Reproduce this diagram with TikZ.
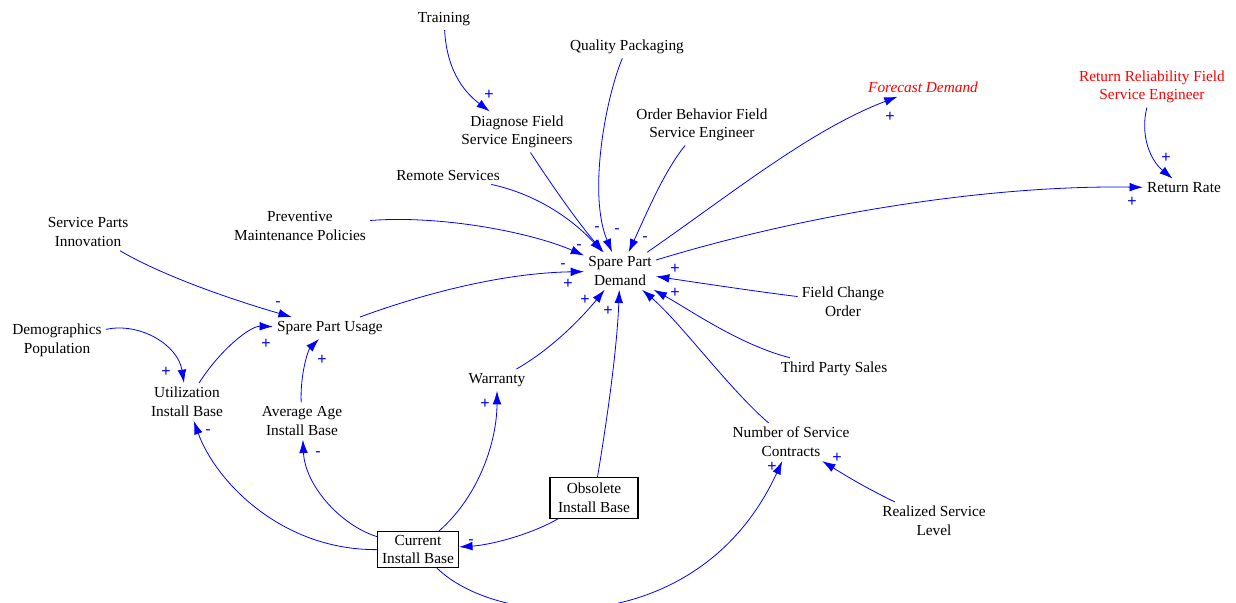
\documentclass[tikz,border=0pt]{standalone}
\usepackage{fontspec}
\setmainfont{Liberation Serif}
\newfontfamily\polfont{Liberation Sans}
\usepackage{tikz}
\usetikzlibrary{arrows.meta}
\usepackage{xcolor}

\newcommand{\varfont}{\fontsize{11.5}{14}\selectfont}
\tikzset{
  var/.style={align=center, inner sep=3pt, font=\varfont},
  redvar/.style={var, text=red},
  stock/.style={var, draw, line width=0.8pt, inner ysep=2.5pt, inner xsep=3.5pt},
  lnk/.style={blue, line width=0.6pt, -{Latex[length=10pt,width=6.5pt]}},
  pol/.style={text=blue, inner sep=0pt, font=\polfont\fontsize{12}{14}\selectfont},
}

\begin{document}
\begin{tikzpicture}[x=0.75pt, y=-0.75pt]
    \clip (0,0) rectangle (1236,603);
    % Variables
    \node[var] (train) at (444,19) {Training};
    \node[var] (quality) at (627,47) {Quality Packaging};
    \node[redvar, font=\varfont\itshape] (forecast) at (923,87) {Forecast Demand};
    \node[redvar] (retrel) at (1152,87) {Return Reliability Field\\Service Engineer};
    \node[var] (diag) at (517,132) {Diagnose Field\\Service Engineers};
    \node[var] (order) at (702,125) {Order Behavior Field\\Service Engineer};
    \node[var] (remote) at (448,175) {Remote Services};
    \node[var] (retrate) at (1184,188) {Return Rate};
    \node[var] (spinnov) at (88,232) {Service Parts\\Innovation};
    \node[var] (prevent) at (300,226) {Preventive\\Maintenance Policies};
    \node[var] (demand) at (620,271) {Spare Part\\Demand};
    \node[var] (fco) at (843,302) {Field Change\\Order};
    \node[var] (usage) at (330,328) {Spare Part Usage};
    \node[var] (demog) at (57,340) {Demographics\\Population};
    \node[var] (warranty) at (497,380) {Warranty};
    \node[var] (tps) at (834,369) {Third Party Sales};
    \node[var] (util) at (187,402) {Utilization\\Install Base};
    \node[var] (avgage) at (302,421) {Average Age\\Install Base};
    \node[var] (nsc) at (791,442) {Number of Service\\Contracts};
    \node[var] (realized) at (934,521) {Realized Service\\Level};
    % Stocks
    \node[stock, inner xsep=6pt, inner ysep=4pt] (obsolete) at (594,498) {Obsolete\\Install Base};
    \node[stock] (current) at (418,549.5) {Current\\Install Base};
    % Links into demand
    \draw[lnk] (train) .. controls (447,75) and (468,95) .. (diag);
    \draw[lnk] (quality) .. controls (605,100) and (588,195) .. (demand);
    \draw[lnk] (diag) .. controls (555,190) and (580,225) .. (demand);
    \draw[lnk] (remote) .. controls (540,195) and (575,222) .. (demand);
    \draw[lnk] (order) .. controls (665,170) and (648,210) .. (demand);
    \draw[lnk] (prevent) .. controls (440,215) and (530,232) .. (demand);
    \draw[lnk] (usage) .. controls (420,295) and (500,273) .. (demand);
    \draw[lnk] (fco) .. controls (760,292) and (700,283) .. (demand);
    \draw[lnk] (tps) .. controls (740,345) and (690,310) .. (demand);
    \draw[lnk] (nsc) .. controls (730,390) and (680,322) .. (demand);
    \draw[lnk] (obsolete) .. controls (607,420) and (617,350) .. (demand);
    \draw[lnk] (warranty) .. controls (550,350) and (580,320) .. (demand);
    % Links out of demand
    \draw[lnk] (demand) .. controls (730,195) and (810,130) .. (forecast);
    \draw[lnk] (demand) .. controls (820,210) and (1000,185) .. (retrate);
    \draw[lnk] (retrel) .. controls (1140,135) and (1150,160) .. (retrate);
    % Links around the install base
    \draw[lnk] (obsolete) .. controls (530,535) and (490,545) .. (current);
    \draw[lnk] (current) .. controls (480,495) and (497,440) .. (warranty);
    \draw[lnk] (current) .. controls (340,525) and (305,485) .. (avgage);
    \draw[lnk] (current) .. controls (280,550) and (215,480) .. (util);
    \draw[lnk] (current) .. controls (500,630) and (700,640) .. (nsc);
    \draw[lnk] (realized) .. controls (860,485) and (840,472) .. (nsc);
    \draw[lnk] (avgage) .. controls (300,375) and (308,350) .. (usage);
    \draw[lnk] (util) .. controls (220,350) and (250,326) .. (usage);
    \draw[lnk] (demog) .. controls (140,322) and (178,345) .. (util);
    \draw[lnk] (spinnov) .. controls (170,280) and (250,305) .. (usage);
    % Polarities
    \node[pol] (pTrain) at (489,95) {+};
    \node[pol] (pForecast) at (890,117) {+};
    \node[pol] (pRetrel) at (1166,158) {+};
    \node[pol] (pRetrate) at (1132,202) {+};
    \node[pol] (pRemote) at (597,229) {-};
    \node[pol] (pDiag) at (617,231) {-};
    \node[pol] (pOrder) at (645,239) {-};
    \node[pol] (pPrevent) at (579,247) {-};
    \node[pol] (pUsageA) at (563,266) {-};
    \node[pol] (pUsageB) at (568,284) {+};
    \node[pol] (pFcoA) at (675,269) {+};
    \node[pol] (pFcoB) at (675,293) {+};
    \node[pol] (pWarranty) at (585,300) {+};
    \node[pol] (pObsolete) at (608,311) {+};
    \node[pol] (pSpinnov) at (278,304) {-};
    \node[pol] (pUtilUsage) at (266,344) {+};
    \node[pol] (pAvgUsage) at (322,360) {+};
    \node[pol] (pDemog) at (166,372) {+};
    \node[pol] (pUtil) at (208,432) {-};
    \node[pol] (pAvgage) at (318,454) {-};
    \node[pol] (pCurWar) at (485,404) {+};
    \node[pol] (pCurrent) at (471,542) {-};
    \node[pol] (pNscA) at (772,467) {+};
    \node[pol] (pNscB) at (837,458) {+};
\end{tikzpicture}
\end{document}
